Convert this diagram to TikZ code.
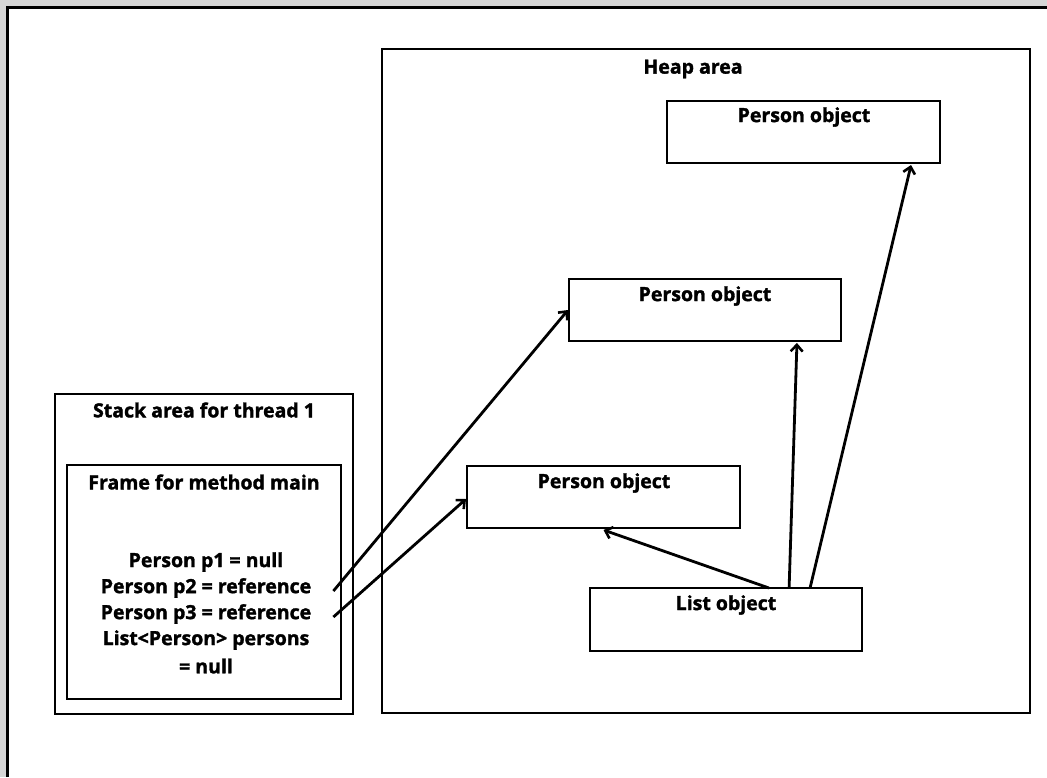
\documentclass[tikz,border=0pt]{standalone}
\usepackage{fontspec}
\setmainfont{Open Sans}[BoldFeatures={FakeBold=1.6}]
\usetikzlibrary{calc,arrows.meta}
\begin{document}
\begin{tikzpicture}[x=1pt,y=-1pt,
  box/.style={draw=black,line width=2.6pt,anchor=north west,inner sep=0pt,outer sep=0pt},
  lbl/.style={font=\fontsize{19.5}{26}\selectfont\bfseries,inner sep=0pt,anchor=center},
  ref/.style={line width=2.8pt,-{Straight Barb[length=6.5pt,width=12pt,line width=2.6pt]}}]
% page and the window frame around it
\useasboundingbox (0,0) rectangle (1047,777);
\fill[black!16] (0,0) rectangle (1047,777);
\fill[white] (7.5,7.5) rectangle (1047,777);
\draw[line width=2.4pt] (7.5,777) -- (7.5,7.5) -- (1047,7.5);

% heap area and its objects
\node[box,minimum width=648pt,minimum height=664pt] (heap) at (382,49) {};
\node[lbl] (heapt) at (693,69) {Heap area};
\node[box,minimum width=273pt,minimum height=62pt] (pa) at (667,101) {};
\node[lbl] (pat) at (804,117) {Person object};
\node[box,minimum width=272pt,minimum height=62pt] (pb) at (569,279) {};
\node[lbl] (pbt) at (705,296) {Person object};
\node[box,minimum width=273pt,minimum height=62pt] (pc) at (467,466) {};
\node[lbl] (pct) at (604,483) {Person object};
\node[box,minimum width=272pt,minimum height=63pt] (lo) at (590,588) {};
\node[lbl] (lot) at (726,605) {List object};

% stack area with the frame of main
\node[box,minimum width=298pt,minimum height=320pt] (stack) at (55,394) {};
\node[lbl] (stackt) at (204,410) {Stack area for thread 1};
\node[box,minimum width=274pt,minimum height=234pt] (frame) at (67,465) {};
\node[lbl] (framet) at (204,482) {Frame for method main};
\node[lbl] (v1) at (206,562) {Person p1 = null};
\node[lbl] (v2) at (206,588) {Person p2 = reference};
\node[lbl] (v3) at (206,614) {Person p3 = reference};
\node[lbl] (v4) at (206,640) {List<Person> persons};
\node[lbl] (v5) at (206,666) {= null};

% references from the stack into the heap
\coordinate (s2) at ($(v2.east)+(22,3)$);
\coordinate (s3) at ($(v3.east)+(22,3)$);
\draw[ref] (s2) -- ($(pb.west)+(-1,0)$);
\draw[ref] (s3) -- ($(pc.west)+(-1,2)$);

% references held by the list
\coordinate (l1) at ($(lo.north west)!0.658!(lo.north east)$);
\coordinate (l2) at ($(lo.north west)!0.732!(lo.north east)$);
\coordinate (l3) at ($(lo.north west)!0.809!(lo.north east)$);
\draw[ref] (l1) -- ($(pc.south)+(0,2)$);
\draw[ref] (l2) -- ($(pb.south west)!0.838!(pb.south east)+(0,2)$);
\draw[ref] (l3) -- ($(pa.south west)!0.894!(pa.south east)+(0,2)$);
\end{tikzpicture}
\end{document}
